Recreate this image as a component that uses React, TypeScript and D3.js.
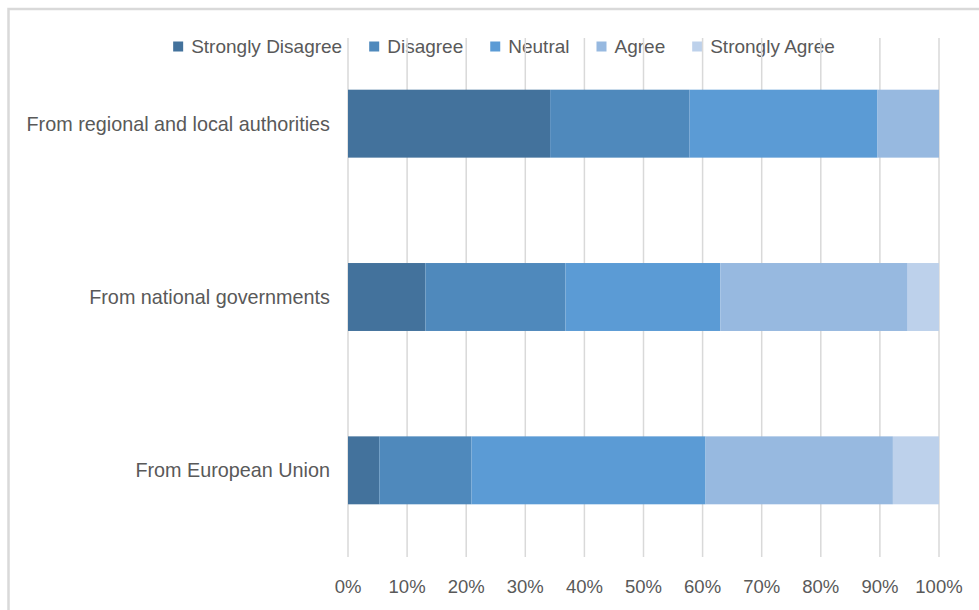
import React, { useEffect, useRef } from "react";
import * as d3 from "d3";

const categories = [
  "From regional and local authorities",
  "From national governments",
  "From European Union",
];
const seriesNames = ["Strongly Disagree", "Disagree", "Neutral", "Agree", "Strongly Agree"];
const stronglyDisagree = [34.2, 13.1, 5.3];
const disagree = [23.6, 23.7, 15.6];
const neutral = [31.8, 26.2, 39.6];
const agree = [10.4, 31.7, 31.7];
const stronglyAgree = [0, 5.3, 7.8];
const tickValues = [0, 10, 20, 30, 40, 50, 60, 70, 80, 90, 100];
const colors = ["#43729C", "#4F89BC", "#5B9BD5", "#97B9E0", "#BDD1EB"];

const W = 979;
const H = 610;
const FONT = "'Liberation Sans', Arial, sans-serif";

export default function App() {
  const ref = useRef<SVGSVGElement | null>(null);

  useEffect(() => {
    const svg = d3.select(ref.current);
    svg.selectAll("*").remove();

    const values = [stronglyDisagree, disagree, neutral, agree, stronglyAgree];
    const rows = categories.map((c, i) => {
      const r: any = { category: c };
      seriesNames.forEach((s, k) => (r[s] = values[k][i]));
      return r;
    });
    const stacked = d3.stack().keys(seriesNames)(rows);

    const x = d3.scaleLinear().domain([0, 100]).range([348, 939]);
    const y = d3
      .scaleBand<string>()
      .domain(categories)
      .range([37, 557])
      .paddingInner(0.608)
      .paddingOuter(0.304);

    svg.append("rect").attr("x", 0).attr("y", 0).attr("width", W).attr("height", H).attr("fill", "#fff");

    svg
      .append("path")
      .attr("d", `M8.5,${H + 5} L8.5,9 L${W + 5},9`)
      .attr("fill", "none")
      .attr("stroke", "#d9d9d9")
      .attr("stroke-width", 2.5);

    // legend (under gridlines)
    const lg = svg.append("g");
    const items = lg.selectAll("g").data(seriesNames).join("g");
    items
      .append("rect")
      .attr("width", 10)
      .attr("height", 10)
      .attr("y", 41.5)
      .attr("fill", (d, i) => colors[i]);
    items
      .append("text")
      .attr("x", 18)
      .attr("y", 46.5)
      .attr("dominant-baseline", "central")
      .attr("font-family", FONT)
      .attr("font-size", 19)
      .attr("fill", "#595959")
      .text((d) => d);
    let cx = 0;
    const offsets: number[] = [];
    const GAP = 27;
    items.each(function () {
      const t = d3.select(this).select("text").node() as SVGTextElement;
      offsets.push(cx);
      cx += 18 + t.getComputedTextLength() + GAP;
    });
    const total = cx - GAP;
    const start = 504 - total / 2;
    items.attr("transform", (d, i) => `translate(${start + offsets[i]},0)`);

    // gridlines
    svg
      .append("g")
      .selectAll("line")
      .data(tickValues)
      .join("line")
      .attr("x1", (d) => x(d))
      .attr("x2", (d) => x(d))
      .attr("y1", 38)
      .attr("y2", 557)
      .attr("stroke", "#d9d9d9")
      .attr("stroke-width", 1.5);

    // bars
    svg
      .append("g")
      .selectAll("g")
      .data(stacked)
      .join("g")
      .attr("fill", (d, i) => colors[i])
      .selectAll("rect")
      .data((d) => d)
      .join("rect")
      .attr("x", (d) => x(d[0]))
      .attr("width", (d) => Math.max(0, x(d[1]) - x(d[0])))
      .attr("y", (d: any) => y(d.data.category) as number)
      .attr("height", y.bandwidth());

    // x tick labels
    svg
      .append("g")
      .selectAll("text")
      .data(tickValues)
      .join("text")
      .attr("x", (d) => x(d))
      .attr("y", 586)
      .attr("text-anchor", "middle")
      .attr("dominant-baseline", "central")
      .attr("font-family", FONT)
      .attr("font-size", 18.5)
      .attr("fill", "#595959")
      .text((d) => `${d}%`);

    // category labels
    svg
      .append("g")
      .selectAll("text")
      .data(categories)
      .join("text")
      .attr("x", 330)
      .attr("y", (d) => (y(d) as number) + y.bandwidth() / 2)
      .attr("text-anchor", "end")
      .attr("dominant-baseline", "central")
      .attr("font-family", FONT)
      .attr("font-size", 19.8)
      .attr("fill", "#595959")
      .text((d) => d);
  }, []);

  return (
    <svg
      ref={ref}
      width={W}
      height={H}
      style={{ position: "absolute", left: 0, top: 0, display: "block" }}
    />
  );
}
